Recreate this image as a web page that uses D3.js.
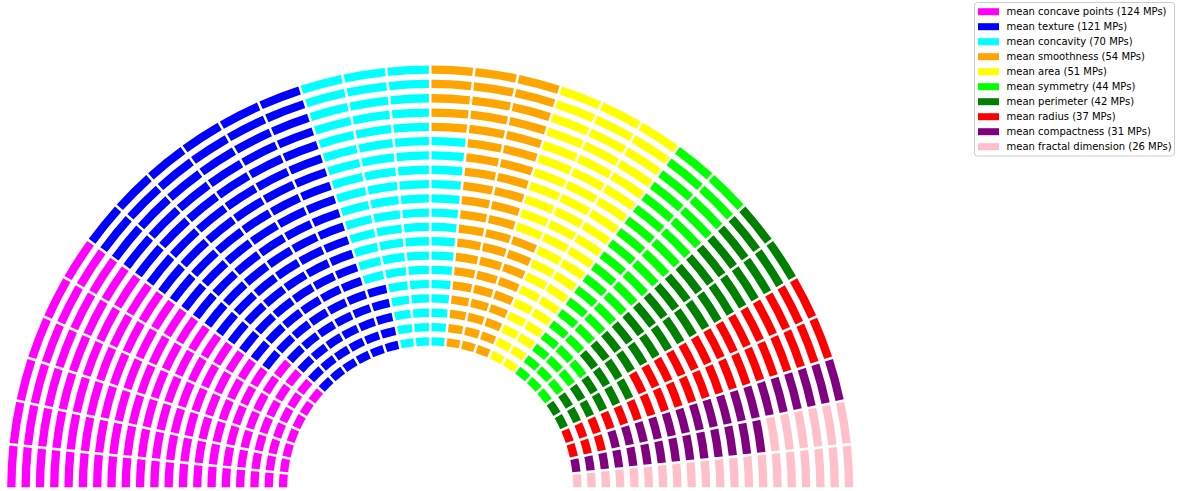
<!DOCTYPE html>
<html>
<head>
<meta charset="utf-8">
<script src="https://cdn.jsdelivr.net/npm/d3@7"></script>
<style>
  body { margin: 0; background: #fff; }
  svg { display: block; font-family: "DejaVu Sans", sans-serif; }
</style>
</head>
<body>
<div id="chart"></div>
<script>
// parties, in seating order (left to right)
const parties = ["mean concave points", "mean texture", "mean concavity", "mean smoothness",
  "mean area", "mean symmetry", "mean perimeter", "mean radius", "mean compactness",
  "mean fractal dimension"];
const seats = [124, 121, 70, 54, 51, 44, 42, 37, 31, 26];
const colors = ["#ff00ff", "#0000ff", "#00ffff", "#ffa500", "#ffff00", "#00ff00",
  "#008000", "#ff0000", "#800080", "#ffc0cb"];

const nSectors = 30;
const nRows = 20;

const width = 1178, height = 491;
const cx = 430.2, cy = 488.5;

const svg = d3.select("#chart").append("svg")
    .attr("width", width)
    .attr("height", height);

// one entry per seat, filled sector by sector, inner row to outer row
const seatList = [];
seats.forEach((n, p) => {
  for (let i = 0; i < n; i++) seatList.push(p);
});
const seatData = seatList.map((p, k) => ({
  party: p,
  sector: Math.floor(k / nRows),
  row: k % nRows
}));

const angle = d3.scaleBand()
    .domain(d3.range(nSectors))
    .range([-Math.PI / 2, Math.PI / 2]);

const radius = d3.scaleBand()
    .domain(d3.range(nRows))
    .range([143, 423])
    .paddingInner(0.42);

const arc = d3.arc()
    .startAngle(d => angle(d.sector))
    .endAngle(d => angle(d.sector) + angle.bandwidth())
    .innerRadius(d => radius(d.row))
    .outerRadius(d => radius(d.row) + radius.bandwidth())
    .padRadius(100)
    .padAngle(0.026);

const plot = svg.append("g")
    .attr("transform", `translate(${cx},${cy})`);

plot.selectAll("path")
    .data(seatData)
    .enter()
    .append("path")
    .attr("d", arc)
    .style("fill", d => colors[d.party]);

// legend
const legend = svg.append("g")
    .attr("transform", "translate(974.5,2.5)");

legend.append("rect")
    .attr("width", 200)
    .attr("height", 153.5)
    .attr("rx", 3)
    .style("fill", "#fff")
    .style("fill-opacity", 0.8)
    .style("stroke", "#cccccc");

const item = legend.selectAll("g.item")
    .data(parties)
    .enter()
    .append("g")
    .attr("class", "item")
    .attr("transform", (d, i) => `translate(0,${9.2 + i * 15})`);

item.append("rect")
    .attr("x", 3.5)
    .attr("y", -3.5)
    .attr("width", 21)
    .attr("height", 7)
    .style("fill", (d, i) => colors[i]);

item.append("text")
    .attr("x", 32)
    .attr("dy", "0.35em")
    .style("font-size", "10px")
    .style("fill", "#000")
    .text((d, i) => `${d} (${seats[i]} MPs)`);
</script>
</body>
</html>
